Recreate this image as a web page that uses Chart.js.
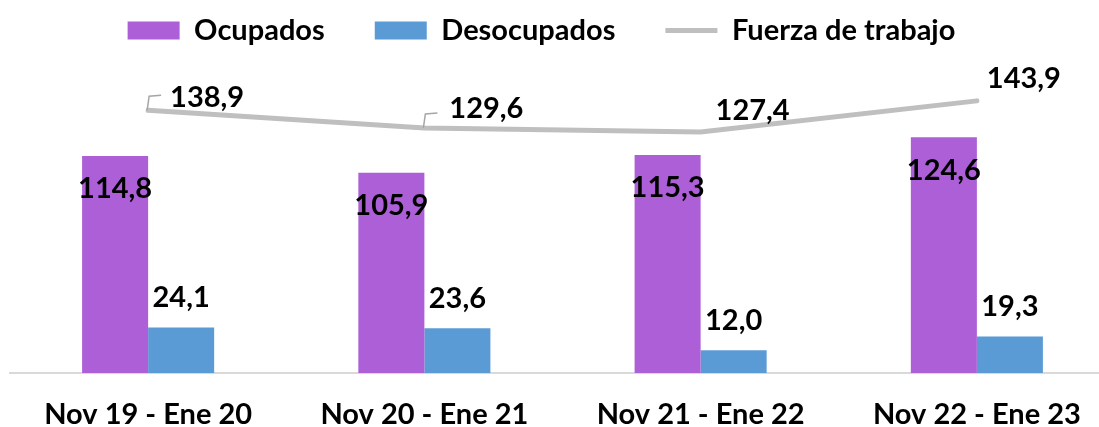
<!DOCTYPE html>
<html>
<head>
<meta charset="utf-8">
<script src="https://cdn.jsdelivr.net/npm/chart.js@4.4.1/dist/chart.umd.min.js"></script>
<style>
    html, body { margin: 0; padding: 0; background: #fff; overflow: hidden; }
    #wrap { position: relative; width: 1115px; height: 427px; }
</style>
</head>
<body>
<div id="wrap"><canvas id="grafico"></canvas></div>
<script>
// datos
const periodos = ['Nov 19 - Ene 20', 'Nov 20 - Ene 21', 'Nov 21 - Ene 22', 'Nov 22 - Ene 23'];
const ocupados = [114.8, 105.9, 115.3, 124.6];
const desocupados = [24.1, 23.6, 12.0, 19.3];
const fuerzaTrabajo = [138.9, 129.6, 127.4, 143.9];

const colorOcupados = '#ad5fd7';
const colorDesocupados = '#5b9bd5';
const colorFuerza = '#bfbfbf';
const fuente = 'Lato, "Open Sans", sans-serif';
const tamFuente = 29;

// desplazamiento de las etiquetas de la linea respecto al punto
const offsetsLinea = [[59, -13], [62, -19], [52, -21], [47, -22]];
const conGuia = [true, true, false, false];

const formato = v => v.toFixed(1).replace('.', ',');

const etiquetas = {
    id: 'etiquetas',
    afterDatasetsDraw(chart) {
        const ctx = chart.ctx;
        ctx.save();
        ctx.font = `bold ${tamFuente}px ${fuente}`;
        ctx.fillStyle = '#000';
        ctx.textAlign = 'center';
        ctx.textBaseline = 'middle';

        chart.getDatasetMeta(0).data.forEach((bar, i) => {
            ctx.fillText(formato(ocupados[i]), bar.x, bar.y + 33);
        });
        chart.getDatasetMeta(1).data.forEach((bar, i) => {
            ctx.fillText(formato(desocupados[i]), bar.x, bar.y - 30);
        });
        chart.getDatasetMeta(2).data.forEach((pt, i) => {
            const [dx, dy] = offsetsLinea[i];
            if (conGuia[i]) {
                ctx.strokeStyle = '#a6a6a6';
                ctx.lineWidth = 1.5;
                ctx.beginPath();
                ctx.moveTo(pt.x - 1, pt.y);
                ctx.lineTo(pt.x + 1, pt.y - 14);
                ctx.lineTo(pt.x + 13, pt.y - 15);
                ctx.stroke();
            }
            ctx.fillText(formato(fuerzaTrabajo[i]), pt.x + dx, pt.y + dy);
        });
        ctx.restore();
    }
};

// mueve la leyenda a la posición del original
const moverLeyenda = {
    id: 'moverLeyenda',
    afterLayout(chart) {
        const dx = -21, dy = -40;
        chart.legend.left += dx;
        chart.legend.right += dx;
        chart.legend.top += dy;
        chart.legend.bottom += dy;
    }
};

new Chart(document.getElementById('grafico'), {
    type: 'bar',
    data: {
        labels: periodos,
        datasets: [
            {
                label: 'Ocupados',
                data: ocupados,
                backgroundColor: colorOcupados,
                borderWidth: 0,
                pointStyle: 'rect'
            },
            {
                label: 'Desocupados',
                data: desocupados,
                backgroundColor: colorDesocupados,
                borderWidth: 0,
                pointStyle: 'rect'
            },
            {
                type: 'line',
                label: 'Fuerza de trabajo',
                data: fuerzaTrabajo,
                borderColor: colorFuerza,
                backgroundColor: colorFuerza,
                borderWidth: 5,
                borderCapStyle: 'round',
                pointRadius: 0,
                pointStyle: 'line',
                tension: 0
            }
        ]
    },
    options: {
        responsive: true,
        maintainAspectRatio: false,
        animation: false,
        layout: { padding: { left: 10, right: 0, top: 6, bottom: 0 } },
        datasets: {
            bar: { categoryPercentage: 0.478, barPercentage: 1 }
        },
        scales: {
            x: {
                grid: { display: false, drawTicks: false },
                border: { display: true, color: '#d9d9d9', width: 2 },
                ticks: {
                    color: '#000',
                    font: { family: fuente, size: tamFuente, weight: 'bold' },
                    padding: 24,
                    maxRotation: 0
                },
                afterFit(scale) { scale.height = 54; }
            },
            y: {
                display: false,
                min: 0,
                max: 147
            }
        },
        plugins: {
            legend: {
                position: 'top',
                labels: {
                    usePointStyle: true,
                    pointStyleWidth: 52,
                    boxHeight: 18,
                    padding: 50,
                    color: '#000',
                    font: { family: fuente, size: tamFuente, weight: 'bold' },
                    sort: (a, b) => a.datasetIndex - b.datasetIndex
                }
            },
            tooltip: { enabled: false }
        }
    },
    plugins: [etiquetas, moverLeyenda]
});
</script>
</body>
</html>
